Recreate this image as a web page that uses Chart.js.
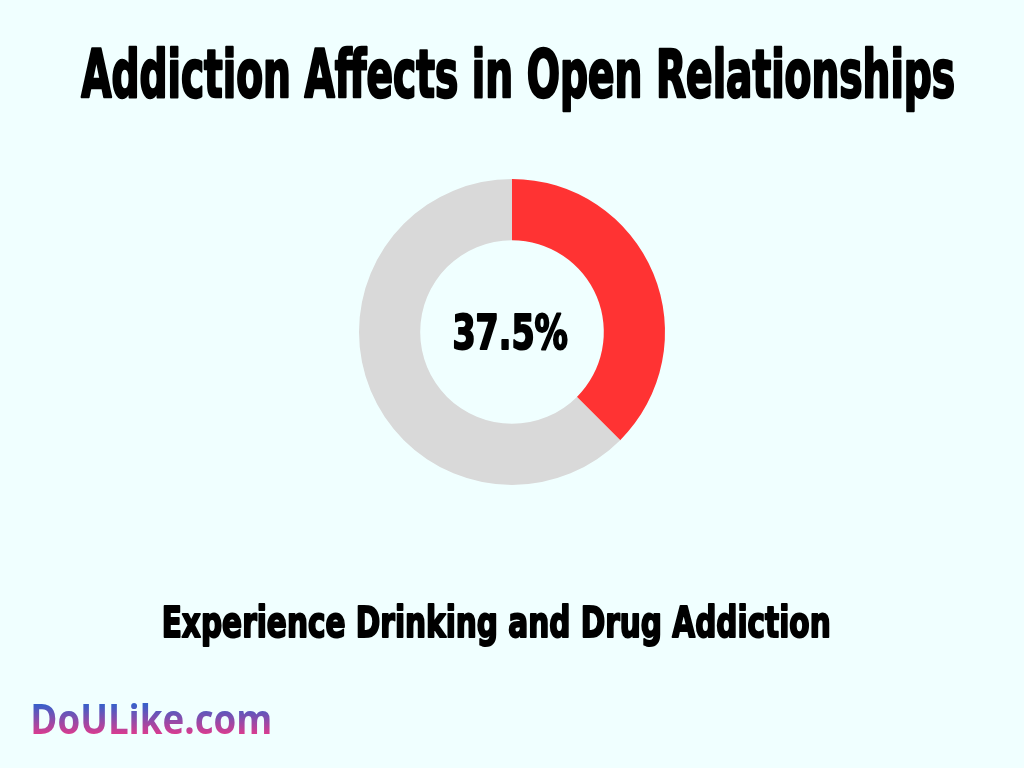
<!DOCTYPE html>
<html>
<head>
<meta charset="utf-8">
<script src="https://cdn.jsdelivr.net/npm/chart.js@4"></script>
<style>
  html, body { margin: 0; padding: 0; background: #F0FFFF; }
  canvas { display: block; }
</style>
</head>
<body>
<canvas id="c" width="1024" height="768"></canvas>
<script>
const titleText = "Addiction Affects in Open Relationships";
const subtitleText = "Experience Drinking and Drug Addiction";
const categories = ["Experience Drinking and Drug Addiction", "Other"];
const values = [37.5, 62.5];
const centerLabel = "37.5%";
const logoText = "DoULike.com";
const colors = ["#FF3333", "#D9D9D9"];

const heavy = '"Liberation Sans Narrow", "DejaVu Sans Condensed", "Liberation Sans", sans-serif';

function drawFit(ctx, text, left, right, top, baseline, family, weight, fill, stroke) {
  ctx.save();
  const hs = (stroke || 0) / 2;
  left += hs; right -= hs; top += hs;
  const ref = 100;
  ctx.font = weight + " " + ref + "px " + family;
  const capA = ctx.measureText("H").actualBoundingBoxAscent;
  const size = ref * (baseline - top) / capA;
  ctx.font = weight + " " + size.toFixed(2) + "px " + family;
  const m = ctx.measureText(text);
  const w = m.actualBoundingBoxLeft + m.actualBoundingBoxRight;
  const sx = (right - left) / w;
  ctx.translate(left, baseline);
  ctx.scale(sx, 1);
  ctx.textBaseline = "alphabetic";
  ctx.textAlign = "left";
  const f = typeof fill === "function" ? fill(ctx, top - baseline - hs, hs + 2) : fill;
  ctx.fillStyle = f;
  ctx.fillText(text, m.actualBoundingBoxLeft, 0);
  if (stroke) {
    ctx.strokeStyle = f;
    ctx.lineWidth = stroke;
    ctx.lineJoin = "round";
    ctx.strokeText(text, m.actualBoundingBoxLeft, 0);
  }
  ctx.restore();
}

const textPlugin = {
  id: "texts",
  afterDraw(chart) {
    const ctx = chart.ctx;
    drawFit(ctx, titleText, 80, 955, 48, 97, heavy, "bold", "#000", 2.5);
    drawFit(ctx, subtitleText, 163, 830, 605, 637, heavy, "bold", "#000", 2);
    drawFit(ctx, centerLabel, 453, 568, 313, 349, heavy, "bold", "#000", 2);
    drawFit(ctx, logoText, 33, 270, 705, 734, '"Open Sans", sans-serif', "bold", (c, y0, y1) => {
      const g = c.createLinearGradient(0, y0, 0, y1);
      g.addColorStop(0, "#3A5FC9");
      g.addColorStop(1, "#E5398B");
      return g;
    }, 0);
  }
};

new Chart(document.getElementById("c"), {
  type: "doughnut",
  data: {
    labels: categories,
    datasets: [{
      data: values,
      backgroundColor: colors,
      borderWidth: 0,
      hoverOffset: 0
    }]
  },
  options: {
    responsive: false,
    animation: false,
    cutout: "60%",
    layout: { padding: { top: 179, bottom: 283, left: 0, right: 0 } },
    plugins: { legend: { display: false }, tooltip: { enabled: false }, title: { display: false } }
  },
  plugins: [textPlugin]
});
</script>
</body>
</html>
